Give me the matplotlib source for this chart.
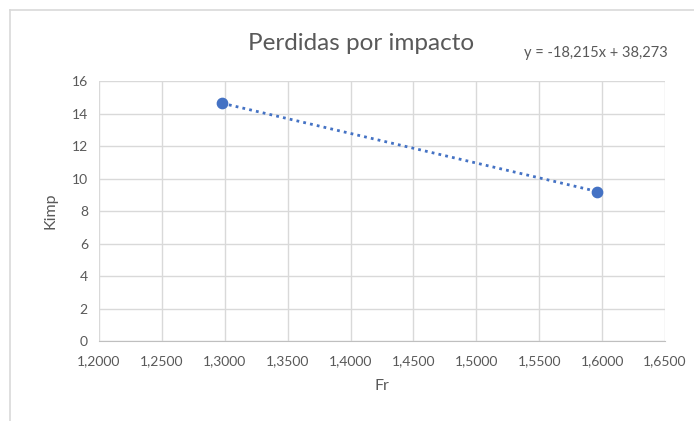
import matplotlib
matplotlib.use("Agg")
import matplotlib.pyplot as plt
from matplotlib.lines import Line2D
import numpy as np

# Data
fr = [1.2979, 1.5962]
kimp = [14.631, 9.197]
slope, intercept = -18.215, 38.273
xticks = [1.20, 1.25, 1.30, 1.35, 1.40, 1.45, 1.50, 1.55, 1.60, 1.65]
yticks = [0, 2, 4, 6, 8, 10, 12, 14, 16]

plt.rcParams['font.family'] = ['Lato', 'DejaVu Sans']

fig = plt.figure(figsize=(6.94, 4.21), dpi=100)
ax = fig.add_axes([99 / 694, 1 - 341 / 421, 566 / 694, 260 / 421])

# trendline (dotted), then points
xt = np.array(fr)
ax.plot(xt, slope * xt + intercept, linestyle=(0, (1, 1.5)), color='#4472C4', lw=2, zorder=3)
ax.scatter(fr, kimp, s=55, color='#4472C4', zorder=4)

ax.set_xlim(1.2, 1.65)
ax.set_ylim(0, 16)
ax.set_xticks(xticks)
ax.set_yticks(yticks)
ax.set_xticklabels([f"{v:.4f}".replace('.', ',') for v in xticks])
ax.tick_params(length=0, labelsize=10, colors='#595959', pad=10)
ax.tick_params(axis='y', pad=8)
ax.grid(True, color='#D9D9D9', lw=1)
ax.set_axisbelow(True)
for s in ['top', 'right', 'left']:
    ax.spines[s].set_visible(False)
ax.spines['bottom'].set_color('#BFBFBF')

ax.set_xlabel('Fr', fontsize=11.5, color='#595959', labelpad=9)
ax.set_ylabel('Kimp', fontsize=11.5, color='#595959', labelpad=10)

fig.text(361 / 694, 1 - 43 / 421, 'Perdidas por impacto', fontsize=17.5, color='#595959',
         ha='center', va='center')
fig.text(596 / 694, 1 - 53 / 421, 'y = -18,215x + 38,273', fontsize=10.5, color='#595959',
         ha='center', va='center')

# chart frame
fig.add_artist(Line2D([10 / 694, 10 / 694], [0, 1 - 10 / 421], color='#D9D9D9', lw=1.2))
fig.add_artist(Line2D([10 / 694, 1], [1 - 10 / 421, 1 - 10 / 421], color='#D9D9D9', lw=1.2))

fig.savefig('out.png', dpi=100)
